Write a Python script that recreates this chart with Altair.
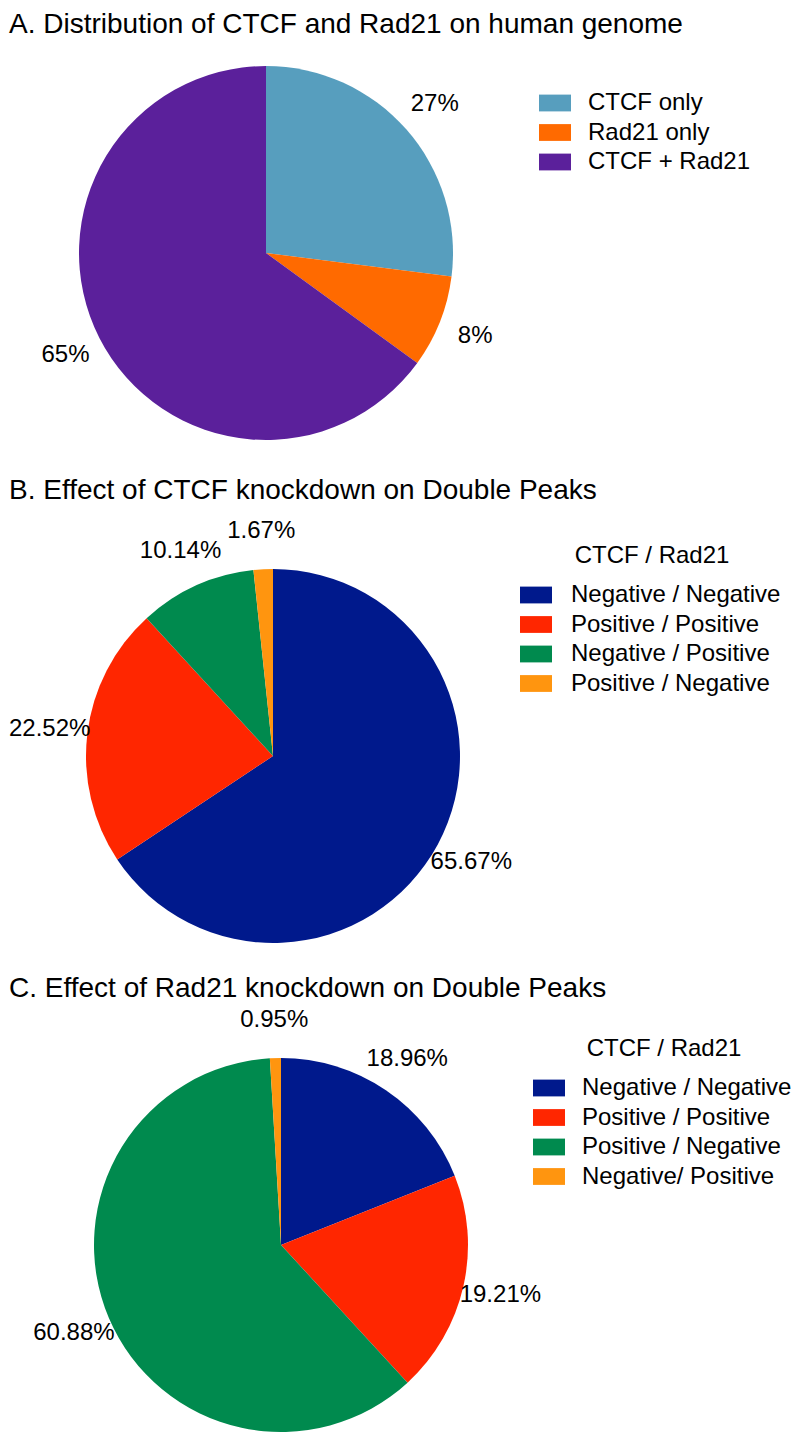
import altair as alt
import pandas as pd

FONT = "Liberation Sans"

# Panel A
a_categories = ["CTCF only", "Rad21 only", "CTCF + Rad21"]
a_values = [27, 8, 65]
a_colors = ["#579EBE", "#FF6A00", "#5B209B"]

# Panel B
b_categories = ["Negative / Negative", "Positive / Positive", "Negative / Positive", "Positive / Negative"]
b_values = [65.67, 22.52, 10.14, 1.67]

# Panel C
c_categories = ["Negative / Negative", "Positive / Positive", "Positive / Negative", "Negative/ Positive"]
c_values = [18.96, 19.21, 60.88, 0.95]

bc_colors = ["#00198C", "#FF2600", "#008A4E", "#FF950F"]

titles = [
    "A. Distribution of CTCF and Rad21 on human genome",
    "B. Effect of CTCF knockdown on Double Peaks",
    "C. Effect of Rad21 knockdown on Double Peaks",
]
legend_title_bc = "CTCF / Rad21"


def pie(cats, vals, colors, title, legend_title, w, h, lx, ly, toff, loff=21):
    df = pd.DataFrame({
        "category": cats,
        "value": vals,
        "idx": list(range(len(cats))),
        "label": [f"{v:g}%" for v in vals],
    })
    legend = alt.Legend(
        title=legend_title,
        orient="none",
        legendX=lx,
        legendY=ly,
        padding=0,
        symbolType="M-2,-1.05H2V1.05H-2Z",
        symbolSize=256,
        symbolStrokeWidth=0,
        symbolOpacity=1,
        labelFontSize=24,
        labelFont=FONT,
        labelColor="black",
        labelOffset=loff,
        labelLimit=400,
        rowPadding=5.5,
        titleFontSize=24,
        titleFont=FONT,
        titleFontWeight="normal",
        titleColor="black",
        titlePadding=15,
        titleAnchor="middle",
    )
    base = alt.Chart(df).encode(
        theta=alt.Theta("value:Q", stack=True),
        order=alt.Order("idx:Q"),
    )
    arcs = base.mark_arc(outerRadius=187).encode(
        color=alt.Color("category:N", scale=alt.Scale(domain=cats, range=colors), legend=legend)
    )
    labels = base.mark_text(radius=225, fontSize=24, font=FONT, color="black").encode(
        text="label:N"
    )
    return alt.layer(arcs, labels).properties(
        width=w,
        height=h,
        title=alt.TitleParams(
            text=title,
            anchor="start",
            frame="group",
            fontSize=28,
            font=FONT,
            fontWeight="normal",
            color="black",
            baseline="alphabetic",
            offset=toff,
        ),
    )


pa = pie(a_categories, a_values, a_colors, titles[0], None, 514, 374, 534, 25, 5)
pb = pie(b_categories, b_values, bc_colors, titles[1], legend_title_bc, 528, 380, 515, -22, -8, 23)
pc = pie(c_categories, c_values, bc_colors, titles[2], legend_title_bc, 544, 346, 528, -35, -17)

chart = (
    alt.vconcat(pa, pb, pc, spacing=126, bounds="flush")
    .resolve_scale(color="independent", theta="independent")
    .properties(padding={"left": 0, "top": 3, "right": 0, "bottom": 0})
    .configure_view(strokeWidth=0)
)

chart.save("out.html", embed_options={"renderer": "svg", "actions": False})
